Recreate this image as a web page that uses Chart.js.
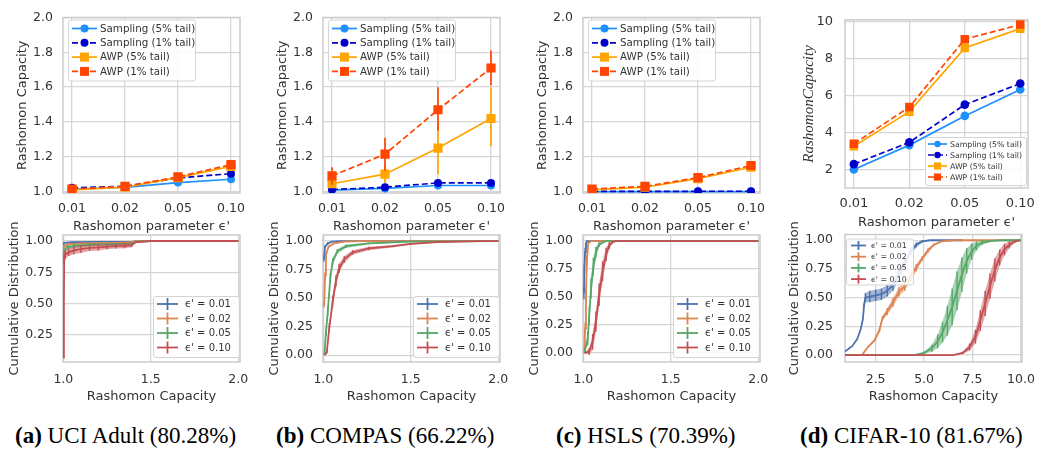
<!DOCTYPE html>
<html>
<head>
<meta charset="utf-8">
<script src="https://cdn.jsdelivr.net/npm/chart.js"></script>
<style>
  body { margin: 0; background: #fff; width: 1045px; height: 450px; position: relative; overflow: hidden; }
  .box { position: absolute; }
  .cap { position: absolute; top: 423px; font-family: "Liberation Serif", serif; font-size: 23px; line-height: 26px; color: #000; white-space: nowrap; }
</style>
</head>
<body>

<div class="box" style="left:0px;top:0px;width:260px;height:235px"><canvas id="topA"></canvas></div>
<div class="box" style="left:260px;top:0px;width:260px;height:235px"><canvas id="topB"></canvas></div>
<div class="box" style="left:520px;top:0px;width:260px;height:235px"><canvas id="topC"></canvas></div>
<div class="box" style="left:780px;top:0px;width:265px;height:235px"><canvas id="topD"></canvas></div>

<div class="box" style="left:0px;top:215px;width:260px;height:205px"><canvas id="botA"></canvas></div>
<div class="box" style="left:260px;top:215px;width:260px;height:205px"><canvas id="botB"></canvas></div>
<div class="box" style="left:520px;top:215px;width:260px;height:205px"><canvas id="botC"></canvas></div>
<div class="box" style="left:780px;top:215px;width:265px;height:205px"><canvas id="botD"></canvas></div>

<div class="cap" style="left:15px"><b>(a)</b> UCI Adult (80.28%)</div>
<div class="cap" style="left:276px"><b>(b)</b> COMPAS (66.22%)</div>
<div class="cap" style="left:556px"><b>(c)</b> HSLS (70.39%)</div>
<div class="cap" style="left:800px"><b>(d)</b> CIFAR-10 (81.67%)</div>

<script>
// ---- data ----
const epsLabels = ['0.01', '0.02', '0.05', '0.10'];
const seriesNames = ['Sampling (5% tail)', 'Sampling (1% tail)', 'AWP (5% tail)', 'AWP (1% tail)'];
const cdfNames = ["ϵ' = 0.01", "ϵ' = 0.02", "ϵ' = 0.05", "ϵ' = 0.10"];

const capTicks = [1.0, 1.2, 1.4, 1.6, 1.8, 2.0];
const cifarCapTicks = [2, 4, 6, 8, 10];
const cdfTicks = [0, 0.25, 0.5, 0.75, 1.0];
const rcTicks = [1.0, 1.5, 2.0];
const cifarRcTicks = [2.5, 5.0, 7.5, 10.0];

// top row: Rashomon capacity per epsilon
const adultSamp5 = [1.015, 1.024, 1.052, 1.071];
const adultSamp1 = [1.022, 1.030, 1.078, 1.103];
const adultAwp5 = [1.010, 1.025, 1.080, 1.145];
const adultAwp1 = [1.015, 1.030, 1.085, 1.155];

const compasSamp5 = [1.009, 1.018, 1.035, 1.035];
const compasSamp1 = [1.012, 1.025, 1.050, 1.050];
const compasAwp5 = [1.045, 1.100, 1.250, 1.420];
const compasAwp5Lo = [1.030, 1.050, 1.100, 1.260];
const compasAwp5Hi = [1.060, 1.150, 1.400, 1.600];
const compasAwp1 = [1.090, 1.215, 1.470, 1.710];
const compasAwp1Lo = [1.040, 1.120, 1.350, 1.610];
const compasAwp1Hi = [1.140, 1.310, 1.600, 1.810];

const hslsSamp5 = [1.000, 1.000, 1.000, 1.000];
const hslsSamp1 = [1.001, 1.001, 1.002, 1.002];
const hslsAwp5 = [1.010, 1.025, 1.075, 1.140];
const hslsAwp1 = [1.015, 1.030, 1.080, 1.150];

const cifarSamp5 = [2.00, 3.32, 4.90, 6.33];
const cifarSamp1 = [2.29, 3.47, 5.51, 6.65];
const cifarAwp5 = [3.26, 5.13, 8.58, 9.62];
const cifarAwp1 = [3.39, 5.38, 9.05, 9.84];

// bottom row: CDF points [capacity, cdf, error]
const adultE01 = [[1.0, 0.97, 0.005], [1.005, 0.985, 0.005], [1.05, 0.99, 0.004], [1.2, 0.993, 0.003], [1.4, 0.995, 0.003], [1.42, 1.0, 0], [2.0, 1.0, 0]];
const adultE02 = [[1.0, 0.93, 0.01], [1.005, 0.96, 0.01], [1.03, 0.975, 0.008], [1.1, 0.98, 0.008], [1.3, 0.985, 0.006], [1.4, 0.99, 0.005], [1.42, 1.0, 0], [2.0, 1.0, 0]];
const adultE05 = [[1.0, 0.85, 0.02], [1.005, 0.92, 0.02], [1.02, 0.95, 0.015], [1.06, 0.96, 0.015], [1.15, 0.97, 0.012], [1.3, 0.975, 0.01], [1.4, 0.98, 0.008], [1.42, 0.995, 0], [1.5, 1.0, 0], [2.0, 1.0, 0]];
const adultE10 = [[1.0, 0.07, 0], [1.003, 0.5, 0], [1.005, 0.85, 0.04], [1.01, 0.89, 0.035], [1.03, 0.91, 0.03], [1.06, 0.925, 0.03], [1.1, 0.935, 0.03], [1.15, 0.945, 0.025], [1.2, 0.95, 0.025], [1.25, 0.955, 0.02], [1.3, 0.96, 0.02], [1.35, 0.962, 0.02], [1.39, 0.965, 0.015], [1.41, 0.99, 0], [1.5, 1.0, 0], [2.0, 1.0, 0]];

const compasE01 = [[1.003, 0.84, 0.02], [1.01, 0.95, 0.015], [1.025, 0.98, 0.01], [1.05, 0.995, 0.004], [1.1, 1.0, 0], [2.0, 1.0, 0]];
const compasE02 = [[1.005, 0.44, 0.02], [1.01, 0.7, 0.03], [1.015, 0.88, 0.02], [1.03, 0.95, 0.01], [1.06, 0.98, 0.008], [1.12, 0.995, 0.003], [1.2, 1.0, 0], [2.0, 1.0, 0]];
const compasE05 = [[1.006, 0.0, 0], [1.015, 0.2, 0.03], [1.025, 0.38, 0.04], [1.04, 0.68, 0.04], [1.053, 0.82, 0.03], [1.08, 0.91, 0.02], [1.13, 0.955, 0.015], [1.26, 0.98, 0.008], [1.5, 0.995, 0.003], [2.0, 1.0, 0]];
const compasE10 = [[1.006, 0.0, 0], [1.02, 0.03, 0.02], [1.034, 0.24, 0.04], [1.053, 0.47, 0.05], [1.072, 0.65, 0.05], [1.09, 0.76, 0.04], [1.12, 0.84, 0.03], [1.167, 0.9, 0.02], [1.26, 0.935, 0.015], [1.4, 0.955, 0.01], [1.5, 0.975, 0.008], [1.65, 0.99, 0.004], [1.9, 1.0, 0], [2.0, 1.0, 0]];

const hslsE01 = [[1.003, 0.53, 0.05], [1.006, 0.75, 0.05], [1.01, 0.9, 0.04], [1.015, 0.97, 0.02], [1.02, 1.0, 0], [2.0, 1.0, 0]];
const hslsE02 = [[1.006, 0.0, 0], [1.01, 0.22, 0.05], [1.015, 0.52, 0.06], [1.02, 0.82, 0.05], [1.028, 0.98, 0.01], [1.044, 1.0, 0], [2.0, 1.0, 0]];
const hslsE05 = [[1.006, 0.0, 0], [1.025, 0.13, 0.06], [1.034, 0.34, 0.08], [1.044, 0.58, 0.09], [1.057, 0.77, 0.08], [1.072, 0.9, 0.05], [1.09, 0.97, 0.02], [1.13, 1.0, 0], [2.0, 1.0, 0]];
const hslsE10 = [[1.006, 0.0, 0], [1.034, 0.015, 0.03], [1.053, 0.1, 0.07], [1.072, 0.28, 0.09], [1.09, 0.52, 0.1], [1.11, 0.73, 0.09], [1.13, 0.88, 0.06], [1.148, 0.96, 0.03], [1.167, 0.99, 0.01], [1.186, 1.0, 0], [2.0, 1.0, 0]];

const cifarE01 = [[0.92, 0.03, 0], [1.3, 0.08, 0], [1.55, 0.14, 0], [1.72, 0.22, 0], [1.84, 0.31, 0], [1.9, 0.43, 0.02], [1.97, 0.5, 0.04], [2.2, 0.51, 0.05], [2.5, 0.52, 0.05], [2.8, 0.53, 0.05], [3.1, 0.56, 0.05], [3.4, 0.61, 0.05], [3.7, 0.7, 0.05], [4.0, 0.8, 0.04], [4.3, 0.9, 0.03], [4.6, 0.96, 0.02], [4.9, 0.99, 0.01], [5.3, 1.0, 0], [7.0, 1.0, 0]];
const cifarE02 = [[0.92, 0, 0], [1.8, 0, 0], [2.1, 0.07, 0], [2.45, 0.13, 0.01], [2.7, 0.22, 0.02], [2.85, 0.32, 0.02], [3.1, 0.38, 0.03], [3.4, 0.46, 0.04], [3.7, 0.55, 0.04], [4.0, 0.6, 0.04], [4.3, 0.68, 0.04], [4.6, 0.76, 0.03], [4.9, 0.84, 0.02], [5.2, 0.91, 0.02], [5.5, 0.96, 0.01], [5.9, 0.99, 0], [6.5, 1.0, 0], [10.0, 1.0, 0]];
const cifarE05 = [[0.92, 0, 0], [4.5, 0, 0], [5.0, 0.02, 0.01], [5.4, 0.06, 0.03], [5.7, 0.12, 0.06], [5.95, 0.2, 0.09], [6.2, 0.3, 0.13], [6.45, 0.42, 0.16], [6.7, 0.56, 0.17], [6.95, 0.7, 0.15], [7.2, 0.82, 0.11], [7.45, 0.9, 0.07], [7.7, 0.95, 0.04], [8.0, 0.98, 0.02], [8.5, 0.995, 0.005], [9.0, 1.0, 0], [10.0, 1.0, 0]];
const cifarE10 = [[0.92, 0, 0], [6.5, 0, 0], [7.0, 0.02, 0.01], [7.35, 0.07, 0.03], [7.65, 0.16, 0.06], [7.9, 0.3, 0.09], [8.15, 0.45, 0.11], [8.4, 0.6, 0.11], [8.65, 0.74, 0.1], [8.9, 0.85, 0.07], [9.15, 0.92, 0.05], [9.4, 0.96, 0.03], [9.7, 0.99, 0.01], [9.95, 1.0, 0]];

// ---- styling ----
const GRID = '#d6d6d6';
const TXT = '#333333';
Chart.defaults.font.family = 'DejaVu Sans';
Chart.defaults.color = TXT;
Chart.defaults.animation = false;

const seriesStyle = [
  { c: '#1E90FF', dash: [], shape: 'circle' },
  { c: '#0000CD', dash: [6, 3], shape: 'circle' },
  { c: '#FFA500', dash: [], shape: 'rect' },
  { c: '#FF4500', dash: [6, 3], shape: 'rect' }
];
const cdfColors = ['#4C72B0', '#DD8452', '#55A868', '#C44E52'];

function fade(hex, a) {
  const n = parseInt(hex.slice(1), 16);
  return 'rgba(' + (n >> 16) + ',' + ((n >> 8) & 255) + ',' + (n & 255) + ',' + a + ')';
}

// box around the plot area, like the seaborn whitegrid spines
const frame = {
  id: 'frame',
  beforeDatasetsDraw(chart) {
    const a = chart.chartArea, c = chart.ctx;
    c.save();
    c.strokeStyle = '#cccccc';
    c.lineWidth = 1.5;
    c.strokeRect(a.left, a.top, a.right - a.left, a.bottom - a.top);
    c.restore();
  }
};

// matplotlib-like legend box inside the axes
const boxLegend = {
  id: 'boxLegend',
  afterDraw(chart, args, o) {
    if (!o || !o.w) return;
    const a = chart.chartArea, c = chart.ctx;
    const items = chart.data.datasets.filter(d => d.legendName);
    const x = o.anchor[1] === 'r' ? a.right - o.dx - o.w : a.left + o.dx;
    const y = o.anchor[0] === 'b' ? a.bottom - o.dy - o.h : a.top + o.dy;
    c.save();
    c.beginPath();
    c.roundRect(x + 0.5, y + 0.5, o.w, o.h, 2.5);
    c.fillStyle = 'rgba(255,255,255,0.85)';
    c.fill();
    c.strokeStyle = '#d4d4d4';
    c.lineWidth = 1;
    c.stroke();
    items.forEach((d, i) => {
      const cy = y + o.row0 + o.row * i;
      const x0 = x + o.lx0, x1 = x + o.lx1, mx = (x0 + x1) / 2;
      c.strokeStyle = d.borderColor;
      c.lineWidth = d.borderWidth;
      c.setLineDash(d.borderDash || []);
      c.beginPath(); c.moveTo(x0, cy); c.lineTo(x1, cy); c.stroke();
      c.setLineDash([]);
      if (o.cross) {
        c.beginPath(); c.moveTo(mx, cy - o.cross); c.lineTo(mx, cy + o.cross); c.stroke();
      } else {
        c.fillStyle = d.borderColor;
        if (d.pointStyle === 'rect') {
          c.fillRect(mx - o.sq, cy - o.sq, 2 * o.sq, 2 * o.sq);
        } else {
          c.beginPath(); c.arc(mx, cy, o.ci, 0, Math.PI * 2); c.fill();
        }
      }
      c.fillStyle = TXT;
      c.font = o.font + 'px "DejaVu Sans"';
      c.textBaseline = 'middle';
      c.fillText(d.legendName, x + o.tx, cy + 0.5);
    });
    c.restore();
  }
};

function axis(o) {
  return {
    type: 'linear', min: o.min, max: o.max,
    afterBuildTicks: s => { s.ticks = o.ticks.filter(v => v >= o.min && v <= o.max).map(v => ({ value: v })); },
    afterFit: s => { if (o.w) s.width = o.w; if (o.h) s.height = o.h; },
    grid: { color: GRID, lineWidth: 1.3, drawTicks: false },
    border: { display: false },
    ticks: { padding: o.pad, autoSkip: false, maxRotation: 0, color: TXT, font: { size: o.size }, callback: o.fmt },
    title: { display: true, text: o.title, color: TXT, font: o.tfont || { size: 13 }, padding: o.tpad }
  };
}

function makeChart(id, datasets, x, y, pad, legend) {
  return new Chart(document.getElementById(id), {
    type: 'scatter',
    data: { datasets: datasets },
    options: {
      responsive: true, maintainAspectRatio: false, events: [],
      layout: { padding: pad },
      scales: { x: x, y: y },
      plugins: { legend: { display: false }, tooltip: { enabled: false }, boxLegend: legend }
    },
    plugins: [frame, boxLegend]
  });
}

function topSets(series, errs, cr, sr) {
  const sets = [];
  series.forEach((vals, i) => {
    const st = seriesStyle[i];
    sets.push({
      legendName: seriesNames[i],
      data: vals.map((v, k) => ({ x: k, y: v })),
      showLine: true, borderColor: st.c, backgroundColor: st.c, borderWidth: 1.7, borderDash: st.dash,
      pointStyle: st.shape, pointRadius: st.shape === 'rect' ? sr : cr, pointBorderWidth: 0,
      pointBackgroundColor: st.c, order: 20 - 2 * i
    });
  });
  errs.forEach(e => {
    const pts = [];
    e.lo.forEach((lo, k) => { pts.push({ x: k, y: lo }, { x: k, y: e.hi[k] }, { x: k, y: null }); });
    sets.push({
      data: pts, showLine: true, spanGaps: false, borderColor: seriesStyle[e.i].c,
      borderWidth: 1.7, pointRadius: 0, order: 21 - 2 * e.i
    });
  });
  return sets;
}

function cdfSets(curves) {
  const sets = [];
  curves.forEach((pts, i) => {
    const col = cdfColors[i];
    const base = 40 - 5 * i;
    sets.push({ data: pts.map(p => ({ x: p[0], y: p[1] - p[2] })), showLine: true, borderColor: 'rgba(0,0,0,0)', pointRadius: 0, fill: false, order: base + 3 });
    sets.push({ data: pts.map(p => ({ x: p[0], y: p[1] + p[2] })), showLine: true, borderColor: 'rgba(0,0,0,0)', pointRadius: 0, fill: '-1', backgroundColor: fade(col, 0.5), order: base + 2 });
    const bars = [];
    pts.filter(p => p[2] > 0).forEach(p => { bars.push({ x: p[0], y: p[1] - p[2] }, { x: p[0], y: p[1] + p[2] }, { x: p[0], y: null }); });
    sets.push({ data: bars, showLine: true, spanGaps: false, borderColor: col, borderWidth: 1.4, pointRadius: 0, order: base + 1 });
    sets.push({
      legendName: cdfNames[i], data: pts.map(p => ({ x: p[0], y: p[1] })),
      showLine: true, borderColor: col, borderWidth: 1.8, pointRadius: 0, order: base
    });
  });
  return sets;
}

const fmt1 = v => v.toFixed(1);
const fmt2 = v => v.toFixed(2);
const fmtInt = v => String(v);
const fmtEps = v => epsLabels[v];

// top row
const topLegend = { anchor: 'tl', dx: 5, dy: 2, w: 127, h: 61, row0: 9, row: 14.3, lx0: 4, lx1: 29, tx: 32, font: 10.3, ci: 4, sq: 4.5 };
function topXY(yTicks) {
  return {
    x: axis({ min: -0.17, max: 3.17, ticks: [0, 1, 2, 3], fmt: fmtEps, pad: 8, size: 12.5, title: "Rashomon parameter ϵ'", tpad: { top: 0, bottom: 1 }, h: 42 }),
    y: axis({ min: 0.992, max: 2.0, ticks: yTicks, fmt: fmt1, pad: 10, size: 12.5, title: 'Rashomon Capacity', tpad: { top: 15, bottom: 0 }, w: 63 })
  };
}
const topPad = { left: 0, right: 20, top: 13, bottom: 0 };

let ax = topXY(capTicks);
makeChart('topA', topSets([adultSamp5, adultSamp1, adultAwp5, adultAwp1], [], 4, 6.5), ax.x, ax.y, topPad, topLegend);
ax = topXY(capTicks);
makeChart('topB', topSets([compasSamp5, compasSamp1, compasAwp5, compasAwp1],
  [{ i: 2, lo: compasAwp5Lo, hi: compasAwp5Hi }, { i: 3, lo: compasAwp1Lo, hi: compasAwp1Hi }], 4, 6.5), ax.x, ax.y, topPad, topLegend);
ax = topXY(capTicks);
makeChart('topC', topSets([hslsSamp5, hslsSamp1, hslsAwp5, hslsAwp1], [], 4, 6.5), ax.x, ax.y, topPad, topLegend);

makeChart('topD', topSets([cifarSamp5, cifarSamp1, cifarAwp5, cifarAwp1], [], 4.3, 6),
  axis({ min: -0.16, max: 3.14, ticks: [0, 1, 2, 3], fmt: fmtEps, pad: 8, size: 13, title: "Rashomon parameter ϵ'", tpad: { top: 0, bottom: 5 }, h: 47 }),
  axis({ min: 1.0, max: 10.1, ticks: cifarCapTicks, fmt: fmtInt, pad: 12, size: 13, title: 'RashomonCapacity', tfont: { size: 15, family: 'Liberation Serif', style: 'italic' }, tpad: { top: 20, bottom: 0 }, w: 65 }),
  { left: 0, right: 17, top: 3, bottom: 0 },
  { anchor: 'br', dx: 2, dy: 3, w: 101, h: 48, row0: 7, row: 11, lx0: 3, lx1: 22, tx: 25, font: 7.8, ci: 3.2, sq: 3.6 });

// bottom row
const botLegend = { anchor: 'br', dx: 1, dy: 5, w: 86, h: 61, row0: 8, row: 14.5, lx0: 4, lx1: 25, tx: 32, font: 10, cross: 6 };
function botXY(ymin, ymax) {
  return {
    x: axis({ min: 0.998, max: 2.01, ticks: rcTicks, fmt: fmt1, pad: 10, size: 12.5, title: 'Rashomon Capacity', tpad: { top: 0, bottom: 16 }, h: 58 }),
    y: axis({ min: ymin, max: ymax, ticks: cdfTicks, fmt: fmt2, pad: 10, size: 12.5, title: 'Cumulative Distribution', tpad: { top: 7, bottom: 0 }, w: 63 })
  };
}
const botPad = { left: 0, right: 20, top: 20, bottom: 0 };

ax = botXY(0.035, 1.048);
makeChart('botA', cdfSets([adultE01, adultE02, adultE05, adultE10]), ax.x, ax.y, botPad, botLegend);
ax = botXY(-0.06, 1.053);
makeChart('botB', cdfSets([compasE01, compasE02, compasE05, compasE10]), ax.x, ax.y, botPad, botLegend);
ax = botXY(-0.08, 1.054);
makeChart('botC', cdfSets([hslsE01, hslsE02, hslsE05, hslsE10]), ax.x, ax.y, botPad, botLegend);

makeChart('botD', cdfSets([cifarE01, cifarE02, cifarE05, cifarE10]),
  axis({ min: 0.92, max: 10.05, ticks: cifarRcTicks, fmt: fmt1, pad: 10, size: 12.5, title: 'Rashomon Capacity', tpad: { top: 0, bottom: 16 }, h: 58 }),
  axis({ min: -0.06, max: 1.05, ticks: cdfTicks, fmt: fmt2, pad: 12, size: 12.5, title: 'Cumulative Distribution', tpad: { top: 7, bottom: 0 }, w: 65 }),
  { left: 0, right: 16, top: 16, bottom: 0 },
  { anchor: 'tl', dx: 1, dy: 4, w: 67, h: 46, row0: 7, row: 11.2, lx0: 5, lx1: 20, tx: 25, font: 7.8, cross: 4.5 });
</script>
</body>
</html>
